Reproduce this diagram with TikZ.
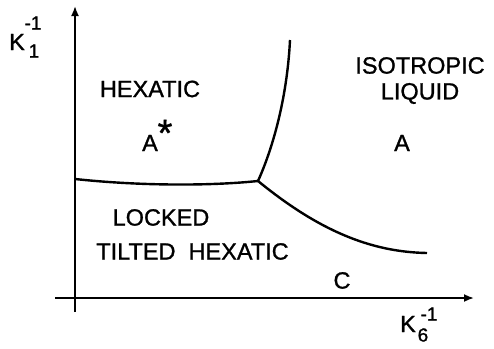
\documentclass[tikz,border=0pt]{standalone}
\usepackage{fontspec}
\setmainfont[FakeBold=1.1]{Liberation Sans}
\usetikzlibrary{arrows.meta}
\begin{document}
\begin{tikzpicture}[x=1pt,y=-1pt,
  lbl/.style={font=\fontsize{23.5}{27}\selectfont, inner sep=0pt},
  scr/.style={font=\fontsize{19}{22}\selectfont, inner sep=0pt},
  axis/.style={line width=1.8pt,-{Latex[length=10pt,width=8pt]}},
  bound/.style={line width=2.4pt}]
\useasboundingbox (0,0) rectangle (494,348);
\coordinate (ybot) at (75,312);
\coordinate (ytop) at (75,6);
\coordinate (xl) at (55,298);
\coordinate (xr) at (474,298);
\draw[axis] (ybot) -- (ytop);
\draw[axis] (xl) -- (xr);
\coordinate (tp) at (258,181);
\coordinate (lend) at (75,179);
\coordinate (uend) at (290,40);
\coordinate (rend) at (427,253);
\draw[bound] (lend) .. controls (140,186) and (210,186) .. (tp);
\draw[bound] (tp) .. controls (272,150) and (287,100) .. (uend);
\draw[bound] (tp) .. controls (318,230) and (370,252) .. (rend);
% axis labels
\node[lbl] (k1) at (17,42) {K};
\node[scr] (k1s) at (33,23) {-1};
\node[scr] (k1b) at (34,51) {1};
\node[lbl] (k6) at (408,324) {K};
\node[scr] (k6s) at (429,314) {-1};
\node[scr] (k6b) at (423,335) {6};
% region labels
\node[lbl] (hex) at (150,89) {HEXATIC};
\node[lbl] (as) at (150,143) {A};
\node[font=\fontsize{38}{40}\selectfont, inner sep=0pt, anchor=base] (star) at (165,146) {*};
\node[lbl] (iso) at (420,65.5) {ISOTROPIC};
\node[lbl] (liq) at (420,93.5) {LIQUID};
\node[lbl] (a) at (402,143) {A};
\node[lbl] (lck) at (161,217.5) {LOCKED};
\node[lbl] (tlt) at (192.5,251.5) {TILTED\;\;HEXATIC};
\node[lbl] (c) at (342,280.5) {C};
\end{tikzpicture}
\end{document}
